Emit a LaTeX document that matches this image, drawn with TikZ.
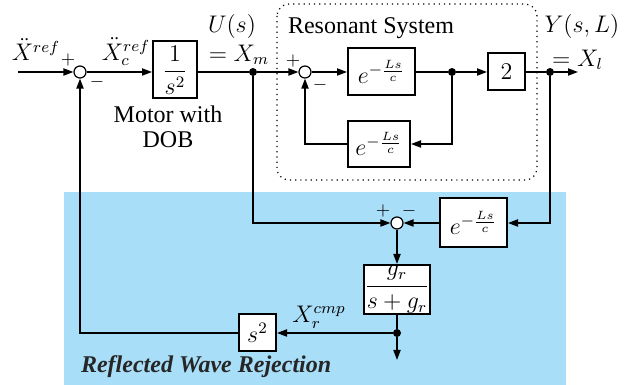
\documentclass[tikz,border=0pt]{standalone}
\usepackage{amsmath}
\usepackage{fontspec}
\setmainfont{Liberation Serif}
\usetikzlibrary{arrows.meta}
\definecolor{rwblue}{RGB}{168,222,248}
\begin{document}
\begin{tikzpicture}[x=0.5pt,y=-0.5pt, font=\fontsize{12}{12.5}\selectfont,
  line/.style={line width=0.65pt},
  arr/.style={line, -{Triangle[length=5pt,width=3.6pt]}},
  blk/.style={draw, line width=1pt, fill=white, inner sep=0pt},
  sumnode/.style={draw, circle, line width=0.6pt, fill=white, minimum size=6pt, inner sep=0pt},
  dotnode/.style={circle, fill, minimum size=4pt, inner sep=0pt},
  sgn/.style={font=\fontsize{9}{10}\selectfont, inner sep=0pt},
]
\useasboundingbox (0,0) rectangle (628,385);
\fill[rwblue] (64,192) rectangle (566,385);
\draw[dotted, line width=0.6pt, rounded corners=6pt] (277,4) rectangle (537,180);

% blocks
\coordinate (in) at (18,72);
\node[sumnode] (s1) at (80,72) {};
\node[blk, minimum width=22pt, minimum height=28.5pt] (b1) at (175,70) {$\dfrac{1}{s^2}$};
\node[dotnode] (dm) at (253,72) {};
\node[sumnode] (s3) at (305,72) {};
\node[blk, minimum width=33.5pt, minimum height=23.5pt] (d1) at (381.5,72) {$e^{-\frac{Ls}{c}}$};
\node[dotnode] (da) at (452,72) {};
\node[blk, minimum width=18.5pt, minimum height=18.5pt] (b2) at (506.5,72) {$2$};
\node[dotnode] (db) at (550,72) {};
\coordinate (out) at (578,72);
\node[blk, minimum width=31pt, minimum height=23pt] (d2) at (379,144) {$e^{-\frac{Ls}{c}}$};
\node[sumnode] (s2) at (397,223) {};
\node[blk, minimum width=33.5pt, minimum height=24.5pt] (d3) at (473.5,223) {$e^{-\frac{Ls}{c}}$};
\node[blk, minimum width=30.5pt, minimum height=24.5pt] (g) at (397,289.5) {$\dfrac{g_r}{s+g_r}$};
\node[dotnode] (dc) at (397,333) {};
\coordinate (down) at (397,360);
\node[blk, minimum width=18.5pt, minimum height=18.5pt] (sq) at (257.5,333) {$s^2$};

% connectors
\draw[arr] (in) -- (s1);
\draw[arr] (s1) -- (b1.west |- s1);
\draw[line] (b1.east |- dm) -- (dm);
\draw[arr] (dm) -- (s3);
\draw[arr] (s3) -- (d1);
\draw[line] (d1) -- (da);
\draw[arr] (da) -- (b2);
\draw[line] (b2) -- (db);
\draw[arr] (db) -- (out);
\draw[arr] (da) |- (d2);
\draw[arr] (d2) -| (s3);
\draw[arr] (dm) |- (s2);
\draw[arr] (db) |- (d3);
\draw[arr] (d3) -- (s2);
\draw[arr] (s2) -- (g);
\draw[line] (g) -- (dc);
\draw[arr] (dc) -- (down);
\draw[arr] (dc) -- (sq);
\draw[arr] (sq) -| (s1);

% labels
\node (lxref) at (36,50) {$\ddot X^{ref}$};
\node[sgn] (p1) at (68,60) {$+$};
\node[sgn] (m1) at (97,82) {$-$};
\node (lxc) at (126,52) {$\ddot X_c^{ref}$};
\node (lu) at (232,27) {$U(s)$};
\node (lxm) at (239,55) {$=X_m$};
\node[align=center] (lmot) at (168,127) {Motor with\\DOB};
\node (lres) at (371,28) {Resonant System};
\node[sgn] (p3) at (293,61) {$+$};
\node[sgn] (m3) at (320,85) {$-$};
\node (ly) at (582,27) {$Y(s,L)$};
\node[anchor=west] (lxl) at (545,60) {$=X_l$};
\node[sgn] (p2) at (383,211) {$+$};
\node[sgn] (m2) at (409,211) {$-$};
\node (lxr) at (319,317) {$X_r^{cmp}$};
\node[anchor=west, text=black!85] (lrw) at (74,367) {\bfseries\itshape Reflected Wave Rejection};
\end{tikzpicture}
\end{document}
